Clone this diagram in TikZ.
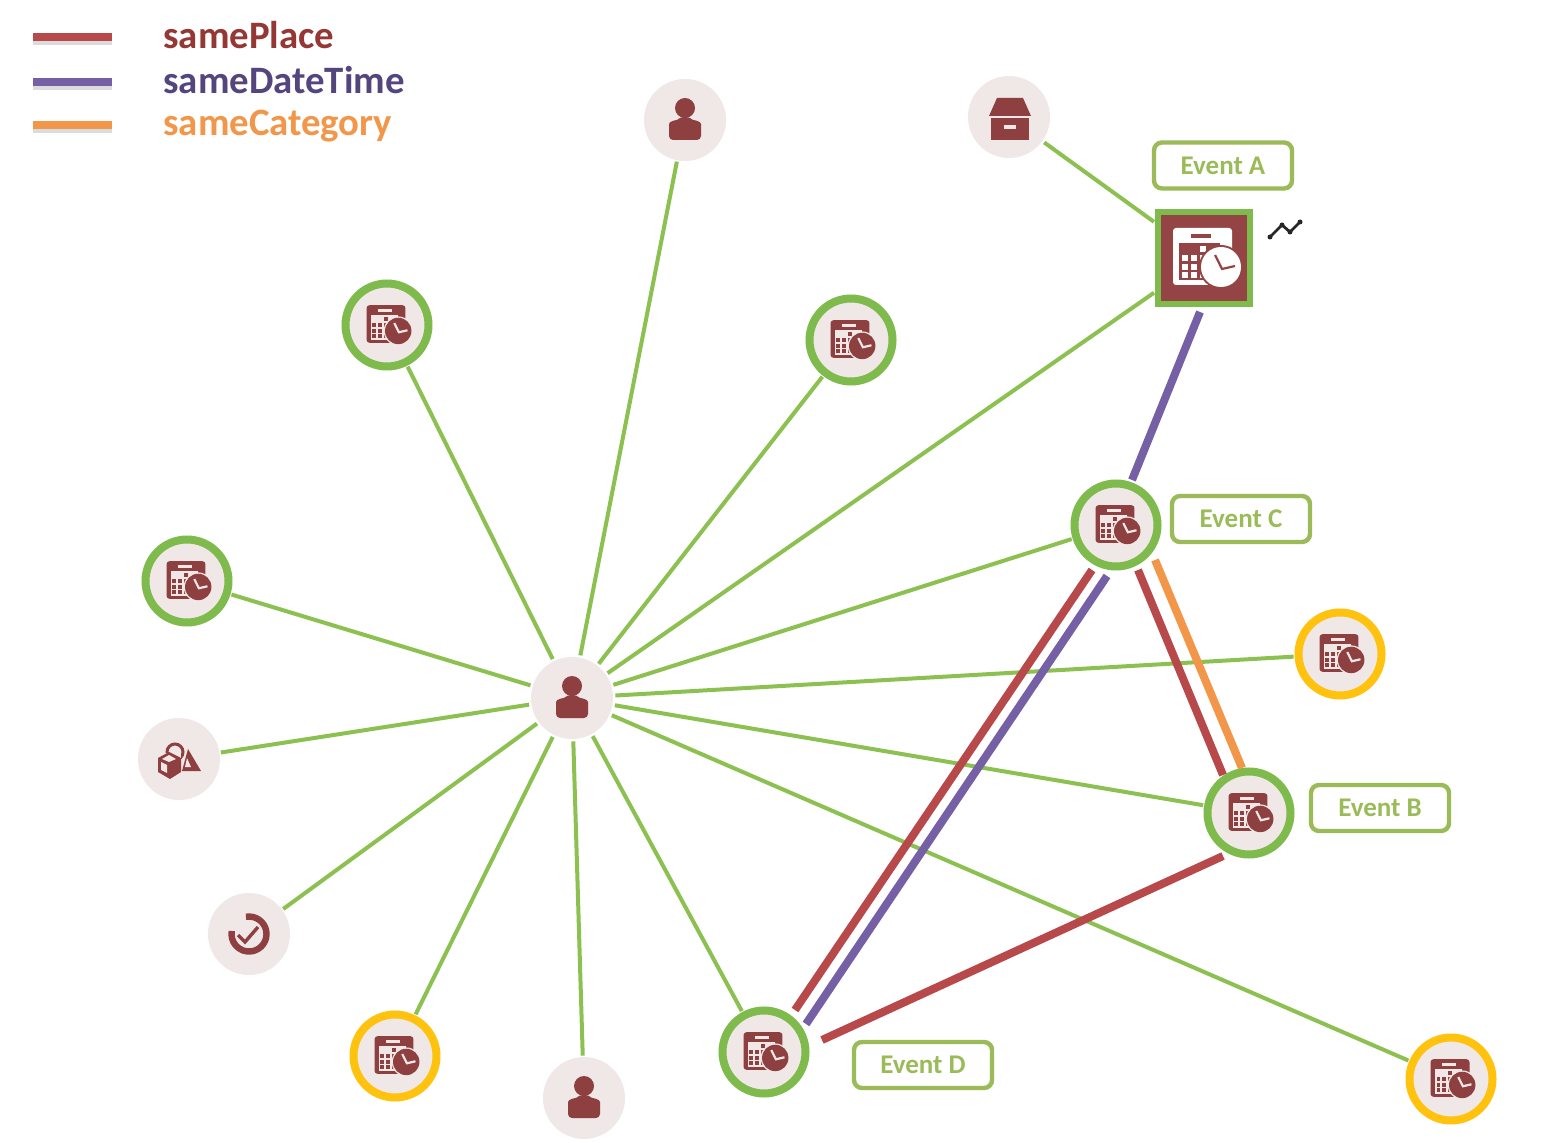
\documentclass[tikz,border=0pt]{standalone}
\usepackage{fontspec}
\setmainfont{Carlito}
\usetikzlibrary{calc}
\definecolor{linkgreen}{HTML}{8CC152}
\definecolor{ringgreen}{HTML}{7FBA4C}
\definecolor{ringyellow}{HTML}{FFC20E}
\definecolor{discfill}{HTML}{F0E7E7}
\definecolor{iconred}{HTML}{8E3F3F}
\definecolor{squarered}{HTML}{944444}
\definecolor{lred}{HTML}{B8494A}
\definecolor{lpurple}{HTML}{7560A6}
\definecolor{lorange}{HTML}{F2964A}
\definecolor{tred}{HTML}{953735}
\definecolor{tpurple}{HTML}{54457F}
\definecolor{labgreen}{HTML}{9BBB59}
\tikzset{
  x=0.5pt,y=-0.5pt,
  disc/.style={circle,fill=discfill,inner sep=0pt,minimum size=41pt},
  greenev/.style={circle,fill=discfill,draw=ringgreen,line width=4pt,inner sep=0pt,minimum size=41.5pt},
  yellowev/.style={greenev,draw=ringyellow},
  squareev/.style={rectangle,fill=squarered,draw=ringgreen,line width=3.2pt,inner sep=0pt,minimum size=46pt},
  evlabel/.style={rectangle,rounded corners=4pt,draw=labgreen,line width=2.2pt,fill=white,text=labgreen,
    font=\bfseries\fontsize{13.5}{15}\selectfont,inner sep=0pt,minimum width=69pt,minimum height=23pt},
  link/.style={linkgreen,line width=2pt,shorten <=1pt,shorten >=0.5pt},
  rel/.style={line width=4pt},
  legtext/.style={anchor=base west,inner sep=0pt,font=\bfseries\fontsize{19.4}{21}\selectfont},
  legshadow/.style={line width=4pt,black!40,opacity=.35},
  pics/cal/.style 2 args={code={
    \fill[#1,rounded corners=1.5pt] (-31,-30) rectangle (28,27);
    \fill[#2] (-13,-24) rectangle (7,-20);
    \fill[#2] (-25,-15) rectangle (16,22);
    \foreach \cx in {-22,-13,-4}{\foreach \cy in {-3,6,14}{\fill[#1] (\cx,\cy) rectangle ++(6,6);}}
    \fill[#1] (-4,-12) rectangle ++(6,6);
    \fill[#2] (17,9) circle[radius=22];
    \fill[#1] (17,9) circle[radius=20];
    \draw[#2,line width=1.1pt,line join=miter] (11,-3) -- (18,11) -- (31,8);
  }},
  pics/person/.style={code={
    \fill[iconred] (0,-12) circle[radius=10];
    \fill[iconred,rounded corners=2pt] (-16,20) -- (-16,8) .. controls (-16,1) and (-8,0) .. (-5,-3) -- (5,-3) .. controls (8,0) and (16,1) .. (16,8) -- (16,20) -- cycle;
  }},
  pics/drawerbox/.style={code={
    \fill[iconred] (-12,-19) -- (14,-19) -- (22,-1) -- (-20,-1) -- cycle;
    \fill[iconred] (-18,1) rectangle (20,23);
    \fill[discfill] (-5,8) rectangle (7,12);
  }},
  pics/checkring/.style={code={
    \draw[iconred,line width=3.2pt] (-3.04,-17.2) arc[start angle=-100,end angle=190,radius=17.5];
    \draw[iconred,line width=1.7pt] (-11,1) -- (-4,8) -- (9,-7);
  }},
  pics/shapesicon/.style={code={
    \draw[iconred,line width=1.5pt] (-4,-7) circle[radius=8];
    \fill[discfill] (-21,-6) rectangle (2,20);
    \fill[iconred] (9,-10) -- (22,12) -- (3,12) -- cycle;
    \fill[discfill] (8,-1) -- (12,8) -- (6,8) -- cycle;
    \fill[iconred] (-10,-7) -- (2,-1) -- (2,13) -- (-9,20) -- (-21,13) -- (-21,-1) -- cycle;
    \fill[discfill] (-17,0) -- (-10,-4) -- (-3,0) -- (-10,3) -- cycle;
    \fill[discfill] (-18,3) -- (-12,6) -- (-12,14) -- (-18,11) -- cycle;
  }},
}
\begin{document}
\begin{tikzpicture}
\useasboundingbox (0,0) rectangle (1552,1143);
\fill[white] (0,0) rectangle (1552,1143);
% nodes
\node[disc] (hub) at (572,698) {};
\node[disc] (personT) at (685,120) {};
\node[disc] (drawer) at (1009,117) {};
\node[disc] (shapes) at (179,759) {};
\node[disc] (check) at (249,934) {};
\node[disc] (personB) at (584,1098) {};
\node[greenev] (evL1) at (387,325) {};
\node[greenev] (evT) at (851,340) {};
\node[greenev] (evL2) at (187,581) {};
\node[greenev] (evC) at (1116,525) {};
\node[greenev] (evB) at (1249,813) {};
\node[greenev] (evD) at (764,1052) {};
\node[yellowev] (evY1) at (1340,654) {};
\node[yellowev] (evY2) at (395,1056) {};
\node[yellowev] (evY3) at (1451,1079) {};
\node[squareev] (evA) at (1204,258) {};
% green links
\foreach \t in {personT,shapes,check,personB,evL1,evT,evL2,evC,evB,evD,evY1,evY2,evY3,evA}
  \draw[link] (hub) -- (\t);
\draw[link] (drawer) -- (evA);
% relation links
\draw[rel,lpurple] ($(evA)+(-4,54)$) -- ($(evC)+(16,-45)$);
\draw[rel,lred] ($(evC)+(-24,45)$) -- ($(evD)+(31,-42)$);
\draw[rel,lpurple] ($(evC)+(-9,51)$) -- ($(evD)+(42,-28)$);
\draw[rel,lred] ($(evC)+(22,45)$) -- ($(evB)+(-26,-38)$);
\draw[rel,lorange] ($(evC)+(39,35)$) -- ($(evB)+(-7,-45)$);
\draw[rel,lred] ($(evB)+(-26,43)$) -- ($(evD)+(58,-12)$);
% icons
\pic at (hub) {person};
\pic at (personT) {person};
\pic at (personB) {person};
\pic at (drawer) {drawerbox};
\pic at (check) {checkring};
\pic at (shapes) {shapesicon};
\foreach \t in {evL1,evT,evL2,evC,evB,evD,evY1,evY2,evY3}
  \pic[scale=.66] at (\t) {cal={iconred}{discfill}};
\pic at (evA) {cal={white}{squarered}};
% sparkline
\draw[black!85,line width=1.4pt,line join=round] (1270,237) -- (1282,225) -- (1290,232) -- (1300,222);
\foreach \p in {(1270,237),(1282,225),(1290,232),(1300,222)} \fill[black!85] \p circle[radius=2.5];
% event labels
\node[evlabel] (labA) at (1223,165.5) {Event A};
\node[evlabel] (labC) at (1241,519) {Event C};
\node[evlabel] (labB) at (1380,808) {Event B};
\node[evlabel] (labD) at (923,1065) {Event D};
% legend
\coordinate (l1a) at (33,37); \coordinate (l1b) at (112,37);
\coordinate (l2a) at (33,82); \coordinate (l2b) at (112,82);
\coordinate (l3a) at (33,125); \coordinate (l3b) at (112,125);
\draw[legshadow] ($(l1a)+(0,4)$) -- ($(l1b)+(0,4)$);
\draw[legshadow] ($(l2a)+(0,4)$) -- ($(l2b)+(0,4)$);
\draw[legshadow] ($(l3a)+(0,4)$) -- ($(l3b)+(0,4)$);
\draw[line width=4pt,lred] (l1a) -- (l1b);
\draw[line width=4pt,lpurple] (l2a) -- (l2b);
\draw[line width=4pt,lorange] (l3a) -- (l3b);
\node[legtext,text=tred] (leg1) at (163,49) {samePlace};
\node[legtext,text=tpurple] (leg2) at (163,94) {sameDateTime};
\node[legtext,text=lorange] (leg3) at (163,136) {sameCategory};
\end{tikzpicture}
\end{document}
